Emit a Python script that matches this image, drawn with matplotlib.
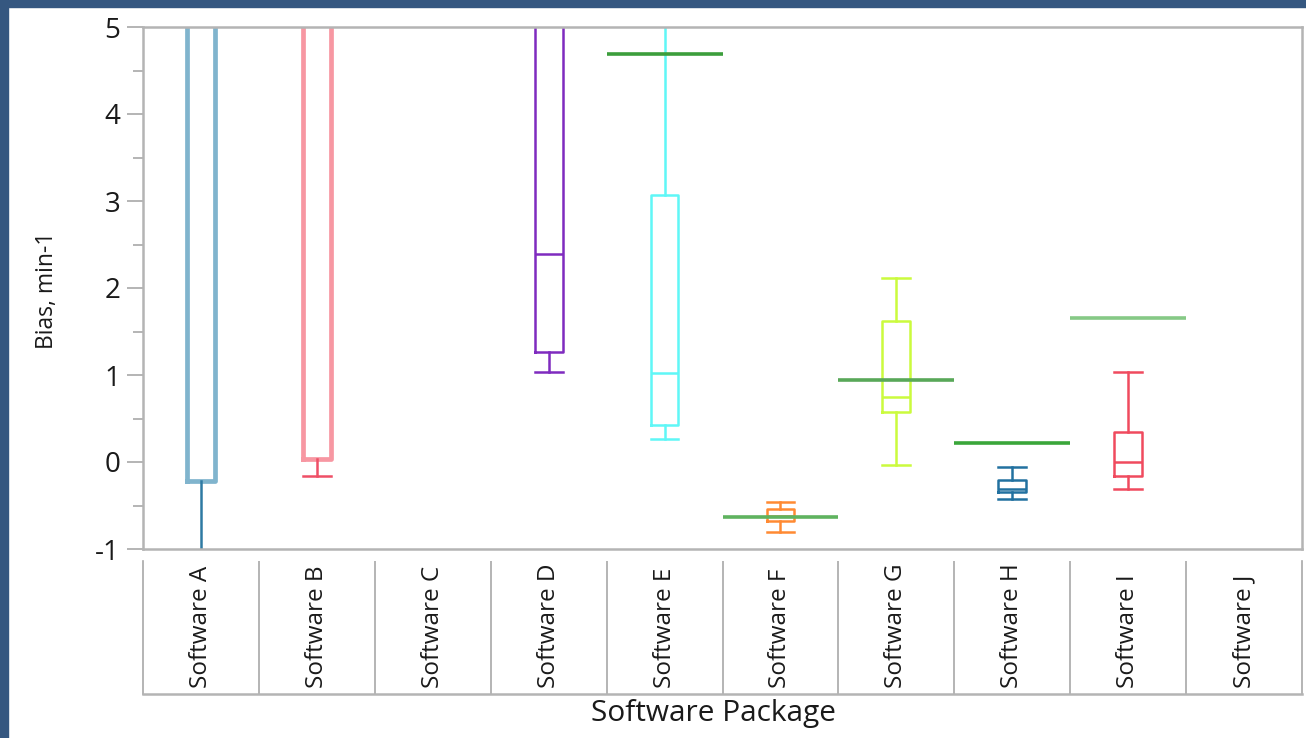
import matplotlib
matplotlib.use("Agg")
import matplotlib.pyplot as plt
from matplotlib.patches import Rectangle

plt.rcParams["font.family"] = ["Open Sans", "DejaVu Sans"]
plt.rcParams["axes.unicode_minus"] = False

# ---- data -------------------------------------------------------------
categories = ["Software A", "Software B", "Software C", "Software D", "Software E",
              "Software F", "Software G", "Software H", "Software I", "Software J"]

# box statistics per package (None = no data); values above 5 / below -1 run off-scale
whis_low = [-1.6, -0.16, None, 1.04, 0.27, -0.81, -0.03, -0.43, -0.31, None]
q1       = [-0.22, 0.03, None, 1.27, 0.42, -0.68, 0.57, -0.35, -0.16, None]
median   = [6.5, 6.0, None, 2.39, 1.02, -0.62, 0.75, -0.31, 0.00, None]
q3       = [9.0, 8.5, None, 6.5, 3.07, -0.54, 1.62, -0.21, 0.34, None]
whis_high = [14.0, 12.0, None, 9.0, 6.5, -0.46, 2.12, -0.06, 1.04, None]

# reference level per package
reference = [None, None, None, None, 4.69, -0.63, 0.94, 0.22, 1.66, None]

box_colors = ["#80b4cd", "#f797a2", None, "#7f2bbf", "#5ff7f7",
              "#ff8a33", "#cbfb3d", "#2271a0", "#f04a5e", None]
whisker_colors = ["#2e7aa3", "#ef4f66", None, "#7f2bbf", "#5ff7f7",
                  "#ff8a33", "#cbfb3d", "#2271a0", "#f04a5e", None]
box_widths_lw = [3.4, 3.4, None, 1.8, 1.8, 1.8, 1.8, 1.8, 1.8, None]
ref_colors = [None, None, None, None, "#3c9e3c", "#5fb35f", "#58a858", "#3aa63a", "#86c986", None]

# ---- figure -----------------------------------------------------------
W, H = 1306, 738
fig = plt.figure(figsize=(W / 100, H / 100), dpi=100, facecolor="white")

# window border
border = "#355780"
fig.add_artist(Rectangle((0, 1 - 7 / H), 1, 7 / H, transform=fig.transFigure,
                         color=border, zorder=0))
fig.add_artist(Rectangle((0, 0), 8 / W, 1, transform=fig.transFigure,
                         color=border, zorder=0))

left, right, top, bottom = 143, 1302, 27, 549
ax = fig.add_axes([left / W, 1 - bottom / H, (right - left) / W, (bottom - top) / H])

grey = "#b4b4b4"
for s in ax.spines.values():
    s.set_color(grey)
    s.set_linewidth(1.8)

n = len(categories)
for i in range(n):
    if q1[i] is None:
        continue
    stats = dict(whislo=whis_low[i], q1=q1[i], med=median[i], q3=q3[i],
                 whishi=whis_high[i], fliers=[])
    bc, wc, lw = box_colors[i], whisker_colors[i], box_widths_lw[i]
    ax.bxp([stats], positions=[i], widths=0.24, capwidths=0.24, showfliers=False,
           boxprops=dict(color=bc, linewidth=lw),
           medianprops=dict(color=bc, linewidth=lw),
           whiskerprops=dict(color=wc, linewidth=1.8),
           capprops=dict(color=wc, linewidth=1.8),
           manage_ticks=False)

for i in range(n):
    if reference[i] is not None:
        ax.hlines(reference[i], i - 0.5, i + 0.5, color=ref_colors[i], linewidth=2.6, zorder=3)

ax.set_xlim(-0.5, n - 0.5)
ax.set_ylim(-1, 5)
ax.set_yticks(range(-1, 6))
ax.set_yticks([v + 0.5 for v in range(-1, 5)], minor=True)
ax.set_xticks([])
ax.tick_params(axis="y", which="major", direction="out", length=11.5, width=1.4,
               color=grey, labelsize=20, pad=5, labelcolor="#1a1a1a")
ax.tick_params(axis="y", which="minor", direction="out", length=7, width=1.4, color=grey)

# category label panel
lb_top, lb_bottom = 561, 694
lax = fig.add_axes([left / W, 1 - lb_bottom / H, (right - left) / W, (lb_bottom - lb_top) / H],
                   sharex=ax)
lax.set_ylim(0, 1)
lax.set_xticks([])
lax.set_yticks([])
lax.spines["top"].set_visible(False)
for s in ("left", "right"):
    lax.spines[s].set_color("#a8a8a8")
    lax.spines[s].set_linewidth(1.2)
lax.spines["bottom"].set_color(grey)
lax.spines["bottom"].set_linewidth(1.8)
lax.vlines([i + 0.5 for i in range(n - 1)], 0, 1, color="#a8a8a8", linewidth=1.2)
for i, name in enumerate(categories):
    lax.text(i, 0.045, name, rotation=90, ha="center", va="bottom",
             fontsize=17.5, color="#1a1a1a")

fig.text(714 / W, 1 - 713 / H, "Software Package", ha="center", va="center",
         fontsize=21.5, color="#1a1a1a")
fig.text(47 / W, 1 - 290 / H, "Bias, min-1", rotation=90, ha="center", va="center",
         fontsize=16.5, color="#1a1a1a")

fig.savefig("out.png", dpi=100, facecolor="white")
